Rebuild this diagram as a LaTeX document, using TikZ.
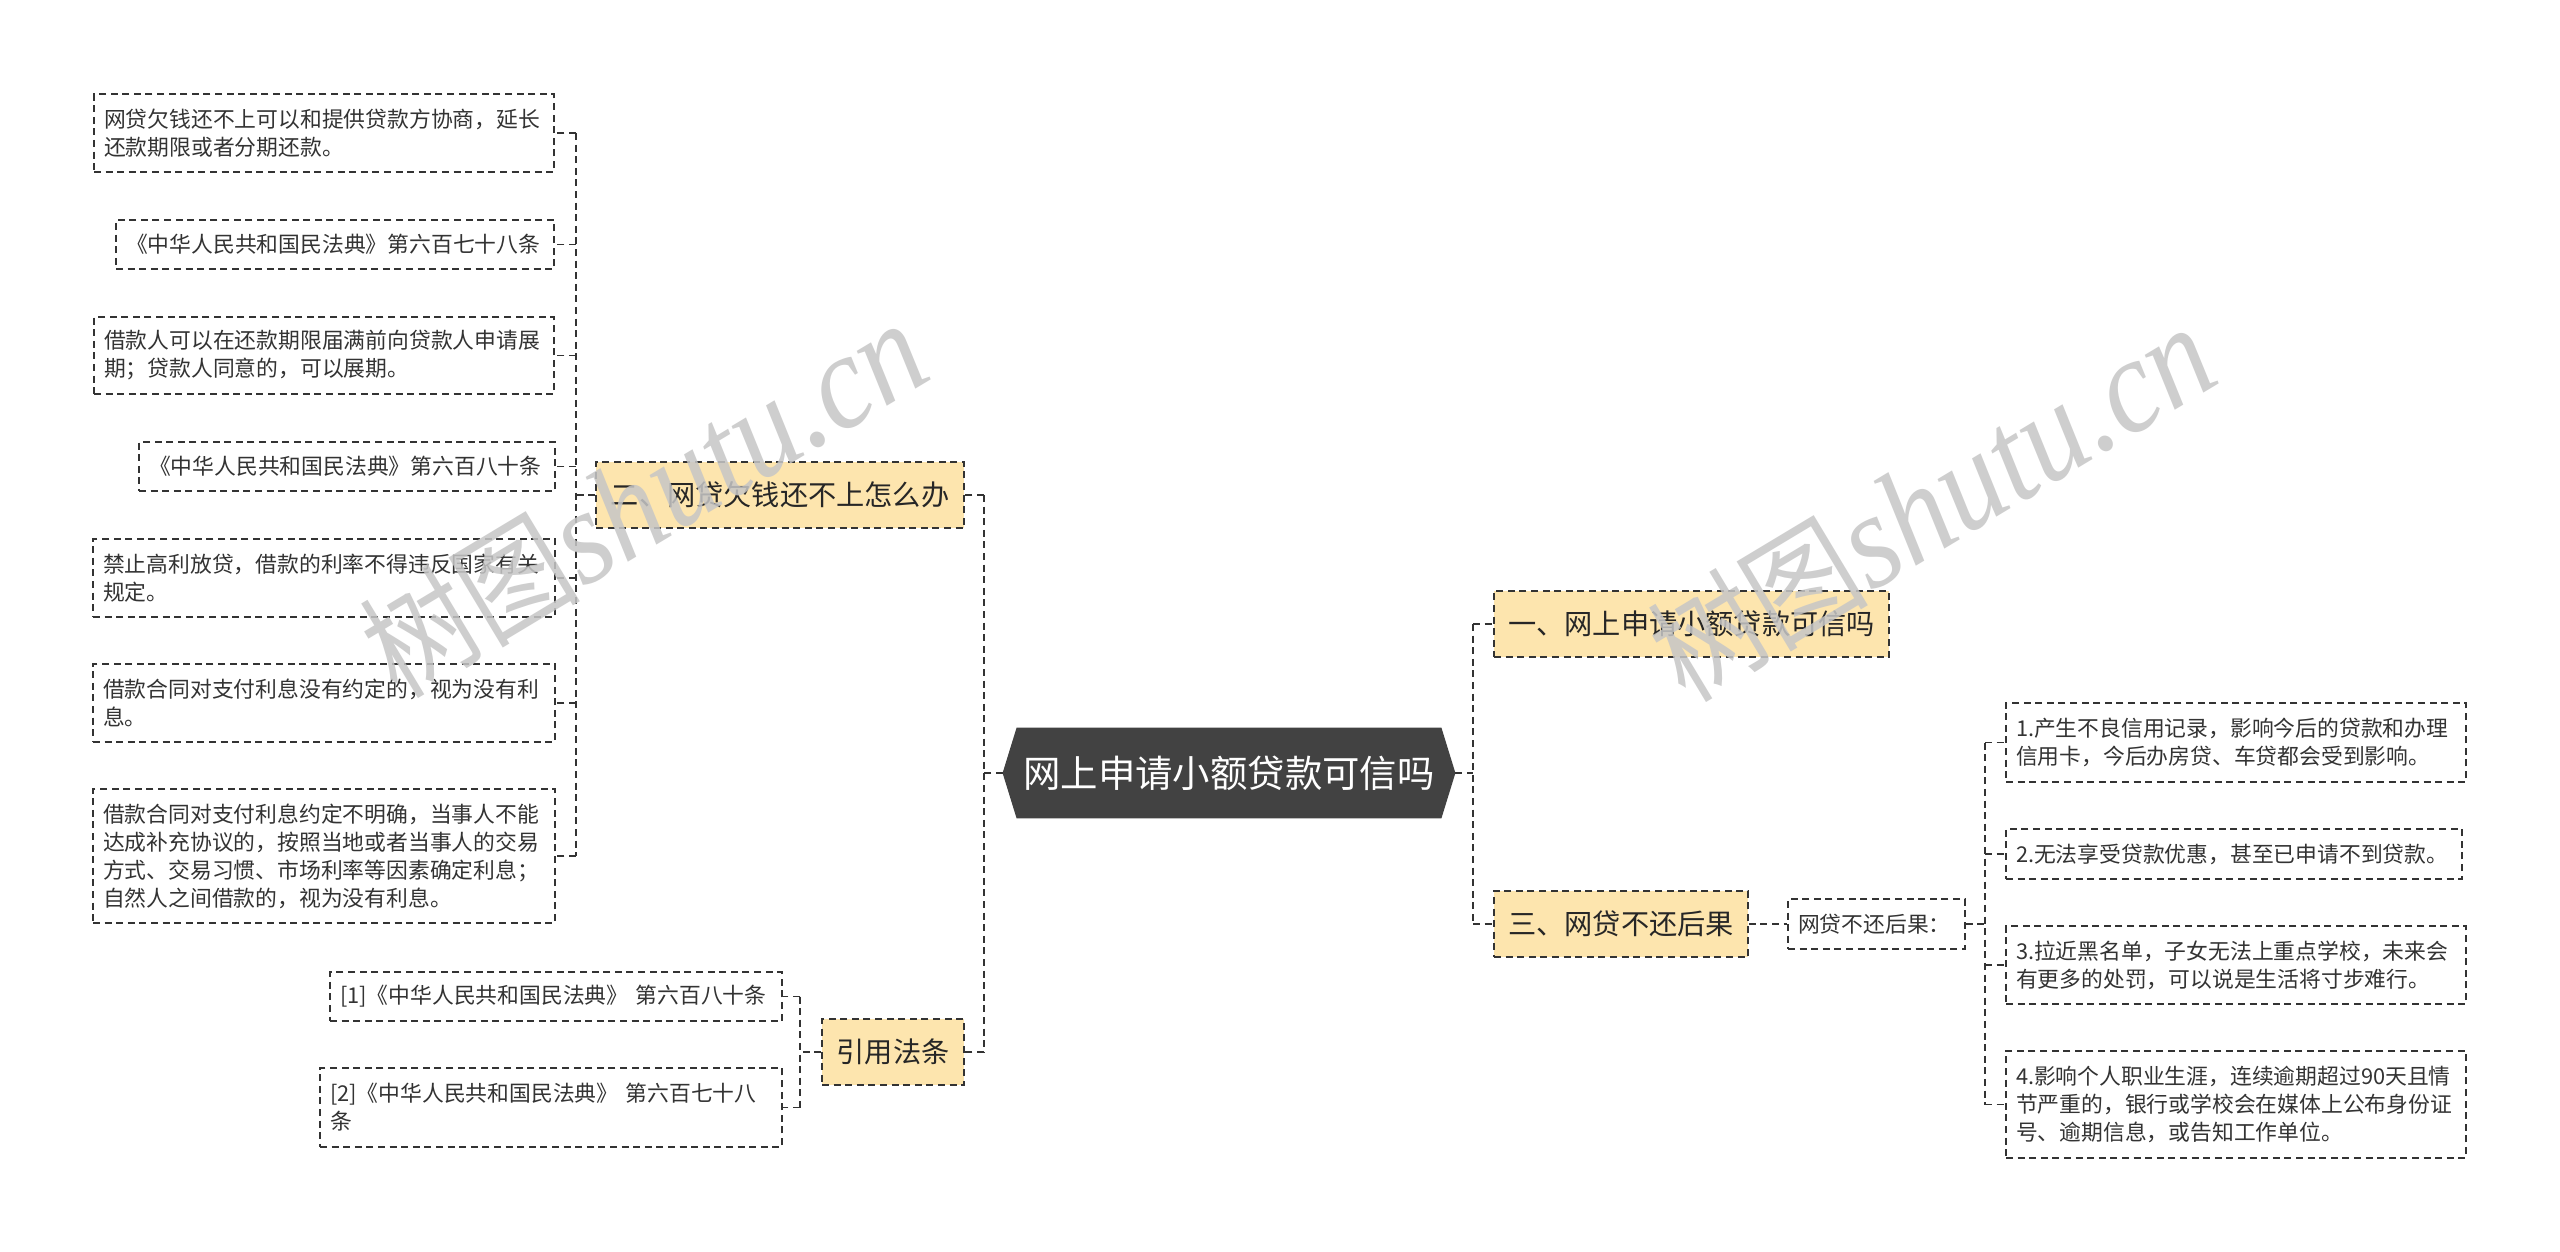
\documentclass[tikz,border=0pt]{standalone}
\usepackage{fontspec}
\setmainfont{Noto Sans CJK SC}
\newfontfamily\wmfont{Liberation Serif}
\newfontfamily\wmcjk{Noto Sans CJK SC}
\usetikzlibrary{calc}
\pgfdeclarelayer{bg}
\pgfsetlayers{bg,main}
\definecolor{linecol}{HTML}{333333}
\definecolor{txtcol}{HTML}{333333}
\definecolor{lonefill}{HTML}{FDE5AE}
\definecolor{rootfill}{HTML}{424242}
\definecolor{wmcol}{HTML}{C6C6C6}
\begin{document}
\begin{tikzpicture}[x=0.5pt,y=-0.5pt,
  dsh/.style={line width=0.85pt, dash pattern=on 3.5pt off 2.3pt, draw=linecol},
  leaf/.style={dsh, fill=white, inner xsep=5pt, inner ysep=0pt, align=left, text=txtcol,
    font=\fontsize{10.9}{14}\selectfont, anchor=center},
  lone/.style={dsh, fill=lonefill, inner sep=0pt, text=black!85,
    font=\fontsize{14.1}{17}\selectfont, minimum height=33pt},
  conn/.style={dsh},
  wm/.style={text=wmcol, opacity=0.85, rotate=31, anchor=base west, xscale=0.9,
    font=\wmfont\itshape\fontsize{68}{68}\selectfont, inner sep=0pt}
]
\useasboundingbox (0,0) rectangle (2560,1252);

% root
\node[font=\fontsize{18.7}{22}\selectfont, text=white, minimum width=226pt,
  minimum height=45pt, inner sep=0pt] (root) at (1229,773) {网上申请小额贷款可信吗};
\begin{pgfonlayer}{bg}
\fill[white] (0,0) rectangle (2560,1252);
\fill[rootfill] (root.west) -- ([xshift=7pt]root.north west) -- ([xshift=-7pt]root.north east)
  -- (root.east) -- ([xshift=-7pt]root.south east) -- ([xshift=7pt]root.south west) -- cycle;
\end{pgfonlayer}

% level one
\node[lone, minimum width=197.5pt] (n1) at (1691.5,624) {一、网上申请小额贷款可信吗};
\node[lone, minimum width=184pt] (n2) at (780,495) {二、网贷欠钱还不上怎么办};
\node[lone, minimum width=127pt] (n3) at (1621,924) {三、网贷不还后果};
\node[lone, minimum width=71pt] (cite) at (893,1052) {引用法条};

% left leaves of n2
\node[leaf, text width=220pt, minimum height=39pt] (a1) at (324,133)
  {网贷欠钱还不上可以和提供贷款方协商，延长\\还款期限或者分期还款。};
\node[leaf, text width=209pt, minimum height=24.5pt] (a2) at (335,244.5)
  {《中华人民共和国民法典》第六百七十八条};
\node[leaf, text width=220pt, minimum height=38.5pt] (a3) at (324,355.5)
  {借款人可以在还款期限届满前向贷款人申请展\\期；贷款人同意的，可以展期。};
\node[leaf, text width=198pt, minimum height=24.5pt] (a4) at (347,466.5)
  {《中华人民共和国民法典》第六百八十条};
\node[leaf, text width=221pt, minimum height=39pt] (a5) at (324,578)
  {禁止高利放贷，借款的利率不得违反国家有关\\规定。};
\node[leaf, text width=221pt, minimum height=39pt] (a6) at (324,703)
  {借款合同对支付利息没有约定的，视为没有利\\息。};
\node[leaf, text width=221pt, minimum height=67pt] (a7) at (324,856)
  {借款合同对支付利息约定不明确，当事人不能\\达成补充协议的，按照当地或者当事人的交易\\方式、交易习惯、市场利率等因素确定利息；\\自然人之间借款的，视为没有利息。};

% cite leaves
\node[leaf, text width=216pt, minimum height=24.5pt] (c1) at (556,996.5)
  {[1]《中华人民共和国民法典》 第六百八十条};
\node[leaf, text width=221pt, minimum height=39.5pt] (c2) at (551,1107.5)
  {[2]《中华人民共和国民法典》 第六百七十八\\条};

% n3 sub
\node[leaf, text width=78.5pt, minimum height=25pt] (sub) at (1876.5,924) {网贷不还后果：};
\node[leaf, text width=220pt, minimum height=39.5pt] (r1) at (2236,742.5)
  {1.产生不良信用记录，影响今后的贷款和办理\\信用卡，今后办房贷、车贷都会受到影响。};
\node[leaf, text width=218pt, minimum height=25pt] (r2) at (2234,854)
  {2.无法享受贷款优惠，甚至已申请不到贷款。};
\node[leaf, text width=220pt, minimum height=39pt] (r3) at (2236,965)
  {3.拉近黑名单，子女无法上重点学校，未来会\\有更多的处罚，可以说是生活将寸步难行。};
\node[leaf, text width=220pt, minimum height=53.5pt] (r4) at (2236,1104.5)
  {4.影响个人职业生涯，连续逾期超过90天且情\\节严重的，银行或学校会在媒体上公布身份证\\号、逾期信息，或告知工作单位。};

% connectors: root left
\coordinate (bL) at (984,773);
\draw[conn] (root.west) -- (bL);
\draw[conn] (bL |- n2.east) -- (bL |- cite.east);
\draw[conn] (bL |- n2.east) -- (n2.east);
\draw[conn] (bL |- cite.east) -- (cite.east);
% n2 children
\coordinate (b2) at (576,495);
\draw[conn] (n2.west) -- (b2);
\draw[conn] (b2 |- a1.east) -- (b2 |- a7.east);
\foreach \i in {1,...,7} { \draw[conn] (b2 |- a\i.east) -- (a\i.east); }
% cite children
\coordinate (bc) at (800,1052);
\draw[conn] (cite.west) -- (bc);
\draw[conn] (bc |- c1.east) -- (bc |- c2.east);
\draw[conn] (bc |- c1.east) -- (c1.east);
\draw[conn] (bc |- c2.east) -- (c2.east);
% root right
\coordinate (bR) at (1473,773);
\draw[conn] (root.east) -- (bR);
\draw[conn] (bR |- n1.west) -- (bR |- n3.west);
\draw[conn] (bR |- n1.west) -- (n1.west);
\draw[conn] (bR |- n3.west) -- (n3.west);
% n3 -> sub
\draw[conn] (n3.east) -- (sub.west);
\coordinate (bS) at (1985,924);
\draw[conn] (sub.east) -- (bS);
\draw[conn] (bS |- r1.west) -- (bS |- r4.west);
\foreach \i in {1,...,4} { \draw[conn] (bS |- r\i.west) -- (r\i.west); }

% watermarks
\node[wm] (wm1) at (398,700) {{\wmcjk\fontsize{60}{60}\selectfont 树图}shutu.cn};
\node[wm] (wm2) at (1686,704) {{\wmcjk\fontsize{60}{60}\selectfont 树图}shutu.cn};
\end{tikzpicture}
\end{document}
